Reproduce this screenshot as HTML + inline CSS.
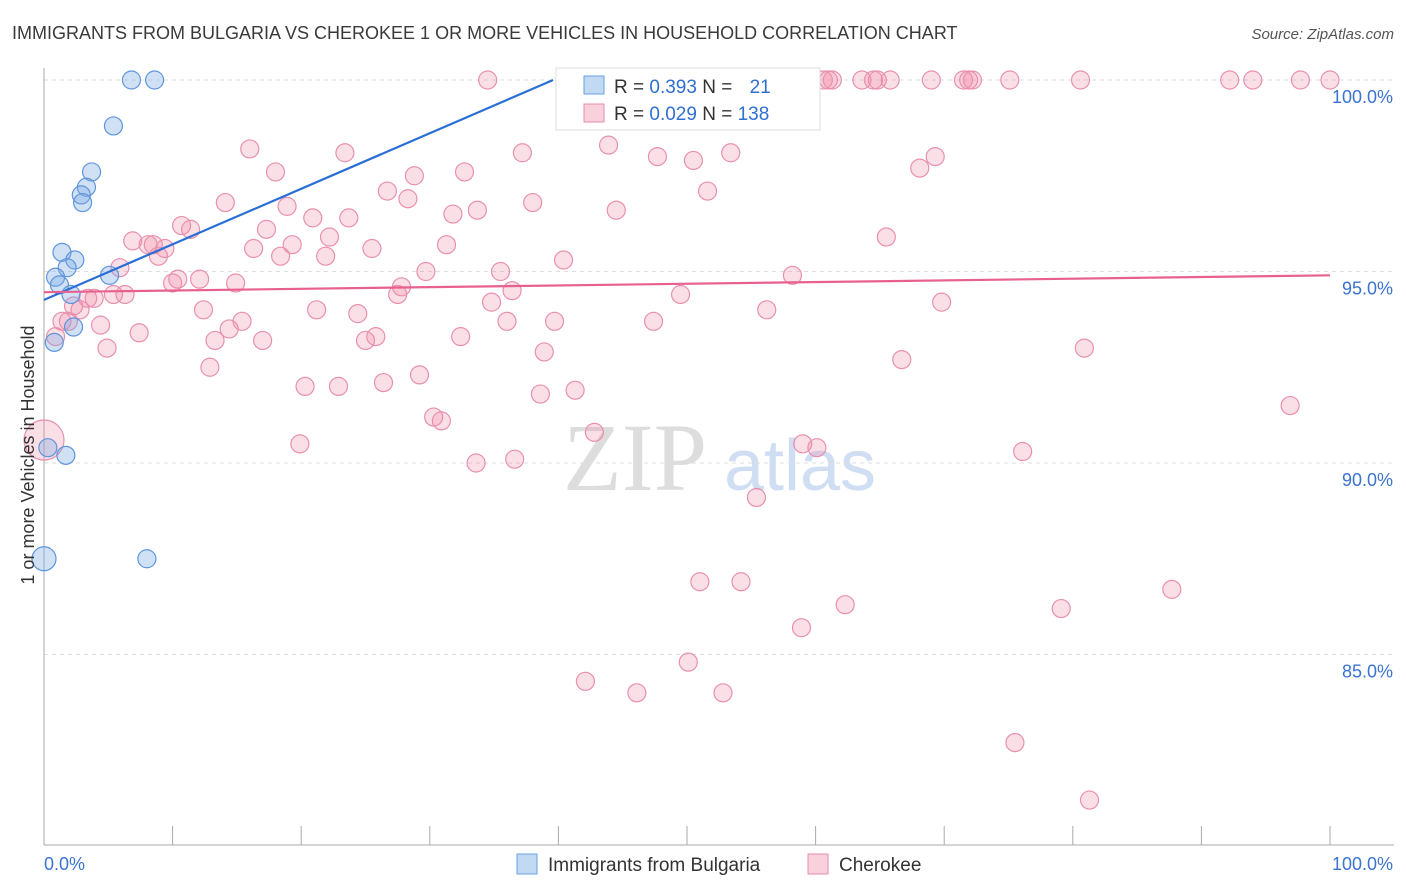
<!DOCTYPE html>
<html><head><meta charset="utf-8"><style>
body{margin:0;background:#fff;font-family:"Liberation Sans",sans-serif}
#wrap{position:relative;width:1406px;height:892px;overflow:hidden}
</style></head><body>
<div id="wrap">
<svg id="svg" width="1406" height="892" xmlns="http://www.w3.org/2000/svg">
<text x="12" y="39" font-size="18" fill="#3a3a3a">IMMIGRANTS FROM BULGARIA VS CHEROKEE 1 OR MORE VEHICLES IN HOUSEHOLD CORRELATION CHART</text>
<text x="1394" y="39" font-size="15" fill="#555" text-anchor="end" font-style="italic">Source: ZipAtlas.com</text>
<g>
<text x="635" y="490" font-size="96" fill="#ddd" text-anchor="middle" font-family="Liberation Serif,serif">ZIP</text>
<text x="800" y="490" font-size="72" fill="#cfdef2" text-anchor="middle">atlas</text>
</g>
<g id="grid"></g><g id="axes"></g><g id="pts"></g><g id="lines"></g>
<text transform="translate(34,455) rotate(-90)" font-size="18" fill="#333" text-anchor="middle">1 or more Vehicles in Household</text>
<g>
<rect x="556" y="68" width="264" height="62" fill="#fff" stroke="#ddd"/>
<rect x="584" y="76" width="20" height="18" fill="rgba(120,170,230,0.45)" stroke="#6a9fe0"/>
<text x="614" y="93" font-size="19" fill="#333">R = <tspan fill="#2f6fd0">0.393</tspan>   N = <tspan fill="#2f6fd0" dx="12">21</tspan></text>
<rect x="584" y="104" width="20" height="18" fill="rgba(240,140,170,0.4)" stroke="#e88aaa"/>
<text x="614" y="120" font-size="19" fill="#333">R = <tspan fill="#2f6fd0">0.029</tspan>   N = <tspan fill="#2f6fd0">138</tspan></text>
</g>
<g>
<rect x="517" y="854" width="20" height="20" fill="rgba(120,170,230,0.45)" stroke="#6a9fe0"/>
<text x="548" y="871" font-size="19" fill="#333">Immigrants from Bulgaria</text>
<rect x="808" y="854" width="20" height="20" fill="rgba(240,140,170,0.4)" stroke="#e88aaa"/>
<text x="839" y="871" font-size="19" fill="#333">Cherokee</text>
</g>
</svg>
</div>
<script>
const yTicks=[100,95,90,85];
const yTickLabels=["100.0%","95.0%","90.0%","85.0%"];
const xTickCount=[0,10,20,30,40,50,60,70,80,90,100];
const xTickLabels=["0.0%","100.0%"];
const blueX=[6.8,8.6,5.4,3.7,3.3,2.9,3.0,1.4,2.4,1.8,0.9,1.2,2.1,5.1,2.3,0.8,1.7,0.3,0,8.0];
const blueY=[100,100,98.8,97.6,97.2,97.0,96.8,95.5,95.3,95.1,94.85,94.65,94.4,94.9,93.55,93.15,90.2,90.4,87.5,87.5];
const pinkX=[0,0.9,1.4,1.9,2.3,2.8,3.4,3.9,4.4,4.9,5.4,5.9,6.3,6.9,7.4,8.1,8.5,8.9,9.4,10.0,10.4,10.7,11.4,12.1,12.4,12.9,13.3,14.1,14.4,14.9,15.4,16.0,16.3,17.0,17.3,18.0,18.4,18.9,19.3,19.9,20.3,20.9,21.2,21.9,22.2,22.9,23.4,23.7,24.4,25.0,25.5,25.8,26.4,26.7,27.5,27.8,28.3,28.8,29.2,29.7,30.3,30.9,31.3,31.8,32.4,32.7,33.6,33.7,34.5,34.8,35.5,36.0,36.4,36.6,37.2,38.0,38.6,38.9,39.7,40.4,41.3,42.1,42.3,42.8,43.5,43.9,44.5,46.1,47.0,47.4,47.7,48.2,49.5,50.1,50.5,51.0,51.6,52.3,52.8,53.4,54.2,55.4,56.2,58.2,58.9,59.0,60.1,60.6,61.0,61.3,62.3,63.6,64.5,64.8,65.8,65.5,66.7,68.1,69.0,69.3,69.8,71.5,71.9,72.2,75.1,75.5,76.1,79.1,80.6,80.9,81.3,87.7,92.2,94.0,96.9,97.7,100];
const pinkY=[90.6,93.3,93.7,93.7,94.1,94.0,94.3,94.3,93.6,93.0,94.4,95.1,94.4,95.8,93.4,95.7,95.7,95.4,95.6,94.7,94.8,96.2,96.1,94.8,94.0,92.5,93.2,96.8,93.5,94.7,93.7,98.2,95.6,93.2,96.1,97.6,95.4,96.7,95.7,90.5,92.0,96.4,94.0,95.4,95.9,92.0,98.1,96.4,93.9,93.2,95.6,93.3,92.1,97.1,94.4,94.6,96.9,97.5,92.3,95.0,91.2,91.1,95.7,96.5,93.3,97.6,90.0,96.6,100,94.2,95.0,93.7,94.5,90.1,98.1,96.8,91.8,92.9,93.7,95.3,91.9,84.3,99.0,90.8,100,98.3,96.6,84.0,100,93.7,98.0,100,94.4,84.8,97.9,86.9,97.1,100,84.0,98.1,86.9,89.1,94.0,94.9,85.7,90.5,90.4,100,100,100,86.3,100,100,100,100,95.9,92.7,97.7,100,98.0,94.2,100,100,100,100,82.7,90.3,86.2,100,93.0,81.2,86.7,100,100,91.5,100,100];
const blueTrend=[94.26,0.145];
const pinkTrend=[94.46,94.9];
const NS="http://www.w3.org/2000/svg";
const X=v=>44+v*12.86, Y=v=>80+(100-v)*38.3;
function mk(p,t,a){const e=document.createElementNS(NS,t);for(const k in a)e.setAttribute(k,a[k]);document.getElementById(p).appendChild(e);return e;}
yTicks.forEach((t,i)=>{
 const g=mk('grid','line',{x1:44,x2:1394,y1:Y(t),y2:Y(t),stroke:'#ddd','stroke-dasharray':'4,4'});
 
 
 const l=mk('axes','text',{x:1393,y:Y(t)+23,'font-size':18,fill:'#3b73d0','text-anchor':'end'});
 l.textContent=yTickLabels[i];
 
 
});
const ya=mk('axes','line',{x1:44,x2:44,y1:68,y2:845,stroke:'#aaa'});


const xa=mk('axes','line',{x1:44,x2:1394,y1:845,y2:845,stroke:'#aaa'});


xTickCount.forEach(t=>{
 const k=mk('axes','line',{x1:X(t),x2:X(t),y1:826,y2:845,stroke:'#aaa'});
 
 
});
const xl0=mk('axes','text',{x:44,y:870,'font-size':18,fill:'#3b73d0'});
xl0.textContent=xTickLabels[0];


const xl1=mk('axes','text',{x:1393,y:870,'font-size':18,fill:'#3b73d0','text-anchor':'end'});
xl1.textContent=xTickLabels[1];


pinkX.forEach((x,i)=>{
 const c=mk('pts','circle',{cx:X(x),cy:Y(pinkY[i]),r:i==0?20:9,fill:'rgba(240,140,170,0.28)',stroke:'#e890ae','stroke-width':1.2});
 
 
});
blueX.forEach((x,i)=>{
 const c=mk('pts','circle',{cx:X(x),cy:Y(blueY[i]),r:i==18?12:9,fill:'rgba(120,170,230,0.35)',stroke:'#5f95dc','stroke-width':1.2});
 
 
});
const xEnd=(100-blueTrend[0])/blueTrend[1];
const bl=mk('lines','line',{x1:X(0),y1:Y(blueTrend[0]),x2:X(xEnd),y2:Y(100),stroke:'#2a6fd6','stroke-width':2.2});


const pl=mk('lines','line',{x1:X(0),y1:Y(pinkTrend[0]),x2:X(100),y2:Y(pinkTrend[1]),stroke:'#e8608e','stroke-width':2.2});


</script>
</body></html>
